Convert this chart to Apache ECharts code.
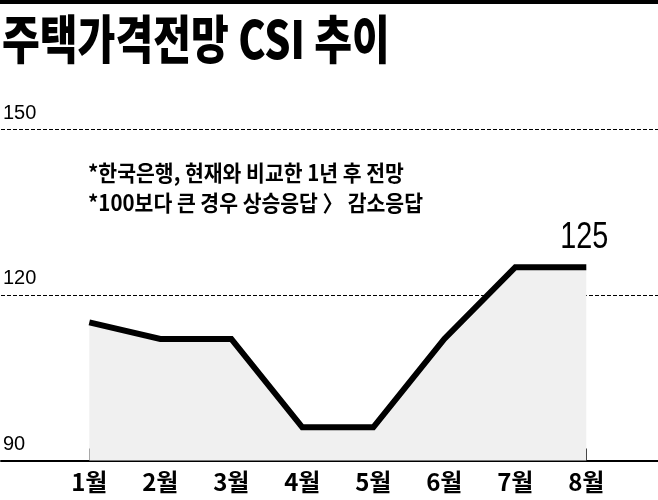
<!DOCTYPE html>
<html>
<head>
<meta charset="utf-8">
<script src="https://cdn.jsdelivr.net/npm/echarts@6/dist/echarts.min.js"></script>
<style>
  html, body { margin: 0; padding: 0; background: #fff; }
  #chart { width: 658px; height: 500px; }
</style>
</head>
<body>
<div id="chart"></div>
<script>
const titleText = '주택가격전망 CSI 추이';
const noteLines = ['*한국은행, 현재와 비교한 1년 후 전망', '*100보다 큰 경우 상승응답 〉 감소응답'];
const categories = ['1월', '2월', '3월', '4월', '5월', '6월', '7월', '8월'];
const csiValues = [115, 112, 112, 96, 96, 112, 125, 125];
const yMin = 90;
const yMax = 150;
const yInterval = 30;

const KR = '"Noto Sans CJK KR", "Noto Sans", sans-serif';
const chart = echarts.init(document.getElementById('chart'), null, { renderer: 'canvas' });
const lastIdx = csiValues.length - 1;

const baseGraphic = [
  { type: 'rect', left: 0, top: 0, shape: { width: 658, height: 4 }, style: { fill: '#000' } },
  {
    type: 'text', x: 2, y: 13, scaleX: 0.79,
    style: { text: titleText, fill: '#000', font: '900 52px ' + KR, textVerticalAlign: 'top' }
  },
  {
    type: 'text', x: 88, y: 162, scaleX: 0.93,
    style: { text: noteLines[0], fill: '#000', font: 'bold 22px ' + KR, textVerticalAlign: 'top' }
  },
  {
    type: 'text', x: 88, y: 192, scaleX: 0.93,
    style: { text: noteLines[1], fill: '#000', font: 'bold 22px ' + KR, textVerticalAlign: 'top' }
  }
];

chart.setOption({
  animation: false,
  backgroundColor: '#fff',
  grid: [
    { left: 0, right: 0, top: 129, bottom: 39.5 },
    { left: 53.8, right: 36.2, top: 129, bottom: 39.5 }
  ],
  xAxis: [
    {
      gridIndex: 0, type: 'value', min: 0, max: 1,
      axisLine: { show: true, lineStyle: { color: '#000', width: 2 } },
      axisTick: { show: false }, axisLabel: { show: false }, splitLine: { show: false }
    },
    {
      gridIndex: 1, type: 'category', data: categories, boundaryGap: true,
      axisLine: { show: false },
      axisTick: { show: true, inside: true, length: 12, alignWithLabel: true, lineStyle: { color: '#000', width: 1 } },
      axisLabel: { color: '#000', fontFamily: KR, fontWeight: 'bold', fontSize: 24, margin: 9 }
    }
  ],
  yAxis: [
    {
      gridIndex: 0, type: 'value', min: yMin, max: yMax, interval: yInterval,
      axisLine: { show: false }, axisTick: { show: false },
      axisLabel: {
        inside: true, margin: 2, color: '#000', fontSize: 20,
        fontFamily: '"Liberation Sans", Arial, sans-serif',
        verticalAlign: 'bottom', padding: [0, 0, 6, 0]
      },
      splitLine: { show: true, lineStyle: { color: '#000', width: 1, type: [4, 2] } }
    },
    {
      gridIndex: 1, type: 'value', min: yMin, max: yMax, interval: yInterval, show: false
    }
  ],
  series: [
    {
      type: 'line',
      xAxisIndex: 1, yAxisIndex: 1,
      data: csiValues,
      symbol: 'none',
      lineStyle: { color: '#000', width: 6, join: 'miter' },
      areaStyle: { color: '#f0f0f0', opacity: 1, origin: 'start' },
      z: 3
    }
  ],
  graphic: baseGraphic
});

// value label of the last point, placed through the chart's own scales
const pt = chart.convertToPixel({ xAxisIndex: 1, yAxisIndex: 1 }, [lastIdx, csiValues[lastIdx]]);
chart.setOption({
  graphic: baseGraphic.concat([
    {
      type: 'text', x: pt[0] - 2, y: pt[1] - 11, scaleX: 0.8, originX: 0,
      style: {
        text: String(csiValues[lastIdx]), fill: '#000',
        font: '36px "Liberation Sans", Arial, sans-serif',
        textAlign: 'center', textVerticalAlign: 'bottom'
      }
    }
  ])
});
</script>
</body>
</html>
